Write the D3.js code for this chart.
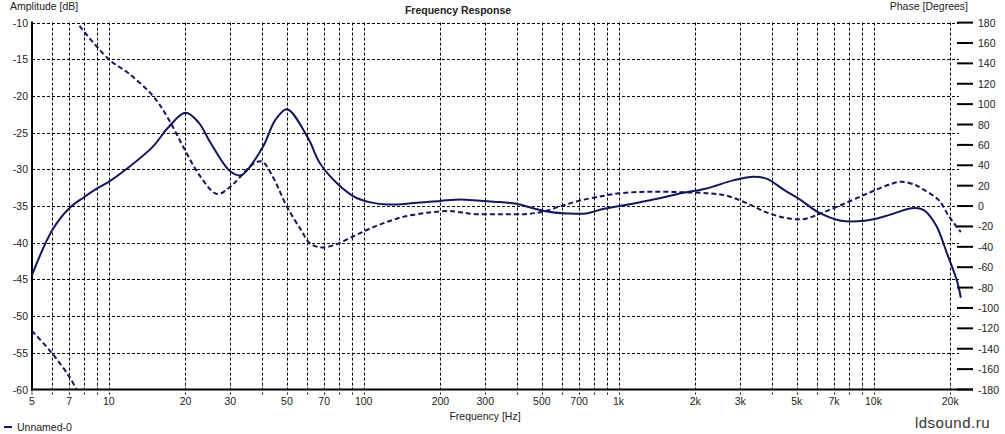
<!DOCTYPE html>
<html>
<head>
<meta charset="utf-8">
<script src="https://cdn.jsdelivr.net/npm/d3@7.9.0/dist/d3.min.js"></script>
<style>
  body { margin: 0; background: #fff; }
  svg text { font-family: "Liberation Sans", Arial, sans-serif; fill: #222; }
</style>
</head>
<body>
<svg id="chart" width="1005" height="434"></svg>
<script>
// amplitude curve (solid, left axis)
const ampFreq = [5, 6, 7, 8, 9, 10, 11.5, 15, 17, 20, 22.5, 25, 30, 33, 40, 45, 50, 60, 67.5, 78.6, 91.6, 106.5, 124, 157.6, 200, 240, 270, 323, 398, 462, 537, 625, 748, 868, 1008, 1330, 1795, 2214, 2817, 3383, 3826, 4456, 5190, 6040, 7460, 9220, 11100, 14100, 15400, 16100, 17700, 19400, 21300, 22000];
const ampDb = [-44.4, -38.3, -35.3, -33.8, -32.6, -31.7, -30.2, -26.8, -24.4, -22.3, -23.6, -26.3, -30.3, -30.8, -27.1, -23.3, -21.8, -25.5, -29.2, -31.9, -33.7, -34.5, -34.8, -34.6, -34.3, -34.1, -34.2, -34.4, -34.7, -35.3, -35.8, -36.0, -36.0, -35.4, -35.0, -34.2, -33.2, -32.6, -31.5, -31.0, -31.3, -32.8, -34.2, -35.8, -37.0, -37.0, -36.4, -35.3, -35.4, -35.8, -37.8, -41.4, -45.3, -47.5];

// phase curve (dashed, right axis), wraps at +-180
const phaseFreq = [5, 6, 7, 7.45, 7.68, 10, 12, 15, 17.1, 19.6, 22.9, 26.6, 30, 32.8, 37.2, 40, 44, 50, 56.8, 61.5, 67.6, 76.9, 91.6, 106.5, 124, 144, 178, 214, 240, 270, 343, 435, 505, 585, 700, 868, 1008, 1330, 1795, 2277, 2650, 3190, 3826, 4600, 5350, 6220, 7460, 9500, 11400, 12900, 14600, 15400, 18000, 19800, 22000];
const phaseDeg = [-122.5, -144.5, -167.4, -179.5, 176.7, 144, 130, 107.3, 86, 58.2, 28.8, 11.8, 19, 28.8, 42, 43.5, 28.8, -0.6, -23.5, -36.6, -40.5, -38.2, -29.4, -21.8, -15.4, -10.4, -6.5, -4.9, -6.1, -7.8, -8.1, -7.8, -5.5, -0.6, 5.2, 9.9, 12.5, 14.1, 13.5, 12.5, 10.2, 2.7, -6.5, -12, -12.7, -7.1, 1, 12.5, 20.6, 23.9, 20.6, 17.4, 6, -10.4, -25.5];

const gridFreqs = [6, 7, 8, 9, 10, 20, 30, 40, 50, 60, 70, 80, 90, 100, 200, 300, 400, 500, 600, 700, 800, 900, 1000, 2000, 3000, 4000, 5000, 6000, 7000, 8000, 9000, 10000, 20000];
const freqTicks = [5, 7, 10, 20, 30, 50, 70, 100, 200, 300, 500, 700, 1000, 2000, 3000, 5000, 7000, 10000, 20000];
const freqTickLabels = ['5', '7', '10', '20', '30', '50', '70', '100', '200', '300', '500', '700', '1k', '2k', '3k', '5k', '7k', '10k', '20k'];
const dbTicks = [-10, -15, -20, -25, -30, -35, -40, -45, -50, -55, -60];
const phaseTicks = d3.range(180, -181, -20);

const plotLeft = 32, plotRight = 960.8, plotTop = 22.6, plotBottom = 389.5;
const lineColor = '#15155c';
const fs = 10.5;

const svg = d3.select('#chart');
const x = d3.scaleLog().domain([5, 22000]).range([plotLeft, plotRight]);
const y = d3.scaleLinear().domain([-60, -10]).range([plotBottom, plotTop]);
const yPhase = d3.scaleLinear().domain([-180, 180]).range([plotBottom, plotTop]);

// grid
const grid = svg.append('g').attr('stroke', '#000').attr('stroke-width', 1).attr('stroke-dasharray', '3,2');
grid.selectAll('line.v').data(gridFreqs).join('line').attr('class', 'v')
  .attr('x1', d => Math.round(x(d)) + 0.5).attr('x2', d => Math.round(x(d)) + 0.5)
  .attr('y1', plotTop).attr('y2', plotBottom + 5);
grid.selectAll('line.h').data(dbTicks.filter(d => d > -60)).join('line').attr('class', 'h')
  .attr('x1', plotLeft).attr('x2', 959)
  .attr('y1', d => Math.round(y(d)) + 0.5).attr('y2', d => Math.round(y(d)) + 0.5);
svg.append('line').attr('x1', plotLeft).attr('x2', plotLeft).attr('y1', plotBottom).attr('y2', plotBottom + 5)
  .attr('stroke', '#000').attr('stroke-dasharray', '2,1');

// axes lines
svg.append('line').attr('x1', plotLeft).attr('x2', plotLeft).attr('y1', plotTop - 1).attr('y2', plotBottom + 1)
  .attr('stroke', '#000').attr('stroke-width', 2);
svg.append('line').attr('x1', plotLeft - 1).attr('x2', 973).attr('y1', plotBottom).attr('y2', plotBottom)
  .attr('stroke', '#000').attr('stroke-width', 2);

// left labels
svg.append('g').selectAll('text').data(dbTicks).join('text')
  .attr('x', 28).attr('y', d => y(d) + 4).attr('text-anchor', 'end')
  .attr('font-size', fs).text(d => d);

// right ticks and labels
const rt = svg.append('g');
rt.selectAll('line').data(phaseTicks).join('line')
  .attr('x1', 957).attr('x2', 973).attr('y1', d => yPhase(d)).attr('y2', d => yPhase(d))
  .attr('stroke', '#000').attr('stroke-width', 2);
rt.selectAll('text').data(phaseTicks).join('text')
  .attr('x', 978).attr('y', d => yPhase(d) + 4).attr('font-size', fs).text(d => d);

// bottom labels
svg.append('g').selectAll('text').data(freqTicks).join('text')
  .attr('x', d => x(d)).attr('y', 405).attr('text-anchor', 'middle')
  .attr('font-size', fs).text((d, i) => freqTickLabels[i]);

// titles
svg.append('text').attr('x', 458).attr('y', 14).attr('text-anchor', 'middle')
  .attr('font-size', 10.5).attr('font-weight', 'bold').text('Frequency Response');
svg.append('text').attr('x', 10).attr('y', 10).attr('font-size', fs).text('Amplitude [dB]');
svg.append('text').attr('x', 968).attr('y', 10).attr('text-anchor', 'end').attr('font-size', fs).text('Phase [Degrees]');
svg.append('text').attr('x', 485).attr('y', 420).attr('text-anchor', 'middle').attr('font-size', fs).text('Frequency [Hz]');

// legend
svg.append('line').attr('x1', 4).attr('x2', 12).attr('y1', 427).attr('y2', 427)
  .attr('stroke', lineColor).attr('stroke-width', 2);
svg.append('text').attr('x', 17).attr('y', 431).attr('font-size', fs).text('Unnamed-0');
svg.append('text').attr('x', 990).attr('y', 428).attr('text-anchor', 'end')
  .attr('font-size', 15).attr('letter-spacing', 0.5).style('fill', '#333').text('ldsound.ru');

// curves
const ampLine = d3.line().curve(d3.curveCatmullRom.alpha(0.5)).x(d => x(d[0])).y(d => y(d[1]));
svg.append('path').datum(ampFreq.map((f, i) => [f, ampDb[i]]))
  .attr('d', ampLine).attr('fill', 'none').attr('stroke', lineColor).attr('stroke-width', 2);

// split phase where it wraps
const segs = [[]];
phaseFreq.forEach((f, i) => {
  if (i > 0 && Math.abs(phaseDeg[i] - phaseDeg[i - 1]) > 180) segs.push([]);
  segs[segs.length - 1].push([f, phaseDeg[i]]);
});
const phaseLine = d3.line().curve(d3.curveCatmullRom.alpha(0.5)).x(d => x(d[0])).y(d => yPhase(d[1]));
svg.append('g').selectAll('path').data(segs).join('path')
  .attr('d', phaseLine).attr('fill', 'none').attr('stroke', lineColor)
  .attr('stroke-width', 2).attr('stroke-dasharray', '5,3');
</script>
</body>
</html>
